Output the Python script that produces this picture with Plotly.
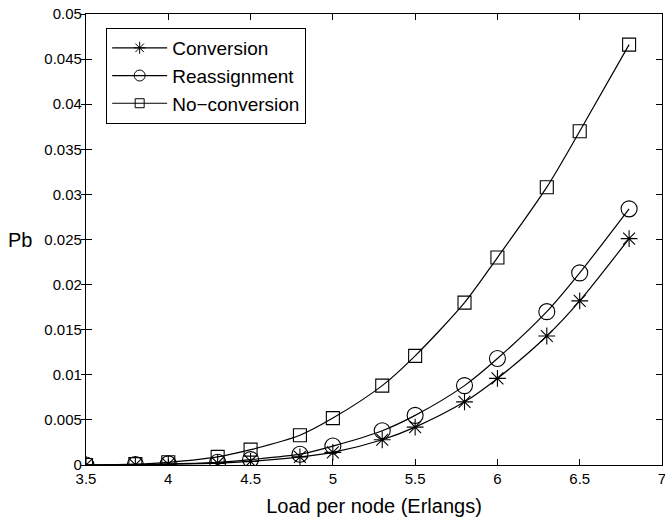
import plotly.graph_objects as go

load = [3.5, 3.8, 4.0, 4.3, 4.5, 4.8, 5.0, 5.3, 5.5, 5.8, 6.0, 6.3, 6.5, 6.8]
conversion = [0.0, 0.00003, 0.00008, 0.0002, 0.0004, 0.0009, 0.0014, 0.0028, 0.0042, 0.0070, 0.0096, 0.0143, 0.0182, 0.0251]
reassignment = [0.0, 0.00005, 0.00012, 0.0003, 0.0006, 0.0012, 0.0021, 0.0038, 0.0055, 0.0088, 0.0118, 0.0170, 0.0213, 0.0284]
no_conversion = [0.0, 0.0001, 0.0003, 0.0009, 0.0017, 0.0033, 0.0052, 0.0088, 0.0121, 0.0180, 0.0230, 0.0308, 0.0370, 0.0466]

x_ticks = [3.5, 4, 4.5, 5, 5.5, 6, 6.5, 7]
x_ticktext = ["3.5", "4", "4.5", "5", "5.5", "6", "6.5", "7"]
y_ticks = [0, 0.005, 0.01, 0.015, 0.02, 0.025, 0.03, 0.035, 0.04, 0.045, 0.05]
y_ticktext = ["0", "0.005", "0.01", "0.015", "0.02", "0.025", "0.03", "0.035", "0.04", "0.045", "0.05"]

FONT = "Liberation Sans, Arial, Helvetica, sans-serif"

series = [
    ("Conversion", conversion, "asterisk-open", 14, 10),
    ("Reassignment", reassignment, "circle-open", 16, 11),
    ("No\u2212conversion", no_conversion, "square-open", 13, 9),
]

fig = go.Figure()
for name, vals, sym, sz, lsz in series:
    fig.add_trace(go.Scatter(
        x=load, y=vals, name=name, mode="lines+markers", showlegend=False,
        line=dict(color="black", width=1.2, shape="spline", smoothing=0.8),
        marker=dict(symbol=sym, size=sz, color="black", line=dict(color="black", width=1.1)),
    ))
for name, vals, sym, sz, lsz in series:
    # legend-only entries with the small legend symbols
    fig.add_trace(go.Scatter(
        x=[None], y=[None], name=name, mode="lines+markers", showlegend=True,
        line=dict(color="black", width=1.2),
        marker=dict(symbol=sym, size=lsz, color="black", line=dict(color="black", width=1)),
    ))

# invisible trace to carry the outer left ticks
fig.add_trace(go.Scatter(x=[load[0]], y=[0], yaxis="y2", showlegend=False,
                         mode="markers", marker=dict(opacity=0), hoverinfo="skip"))

fig.update_layout(
    width=665, height=524,
    margin=dict(l=86, r=3, t=14, b=59, autoexpand=False),
    paper_bgcolor="white", plot_bgcolor="white",
    font=dict(family=FONT, size=15, color="black"),
    showlegend=True,
    legend=dict(
        x=0.035, y=0.969, xanchor="left", yanchor="top",
        bgcolor="white", bordercolor="black", borderwidth=1,
        font=dict(size=19, family=FONT), tracegroupgap=0,
        itemwidth=55,
    ),
    xaxis=dict(
        range=[3.5, 7], tickvals=x_ticks, ticktext=x_ticktext,
        ticks="inside", ticklen=6, tickcolor="black",
        showline=True, linecolor="black", linewidth=1.2, mirror="ticks",
        showgrid=False, zeroline=False, ticklabeloverflow="allow",
        automargin=False,
        tickfont=dict(size=15),
        title=dict(text="Load per node (Erlangs)", font=dict(size=20), standoff=12),
    ),
    yaxis=dict(
        range=[0, 0.05], tickvals=y_ticks, ticktext=y_ticktext,
        ticks="inside", ticklen=6, tickcolor="black",
        showline=True, linecolor="black", linewidth=1.2, mirror="ticks",
        showgrid=False, zeroline=False, ticklabeloverflow="allow",
        automargin=False,
        tickfont=dict(size=15),
    ),
    yaxis2=dict(
        range=[0, 0.05], tickvals=y_ticks, overlaying="y", side="left",
        ticks="outside", ticklen=4, tickcolor="black", automargin=False,
        showticklabels=False, showline=False, showgrid=False, zeroline=False,
    ),
    annotations=[dict(
        text="Pb", xref="paper", yref="paper", x=-0.114, y=0.5,
        xanchor="center", yanchor="middle", showarrow=False,
        font=dict(size=20, family=FONT),
    )],
)

fig.write_html("out.html")
